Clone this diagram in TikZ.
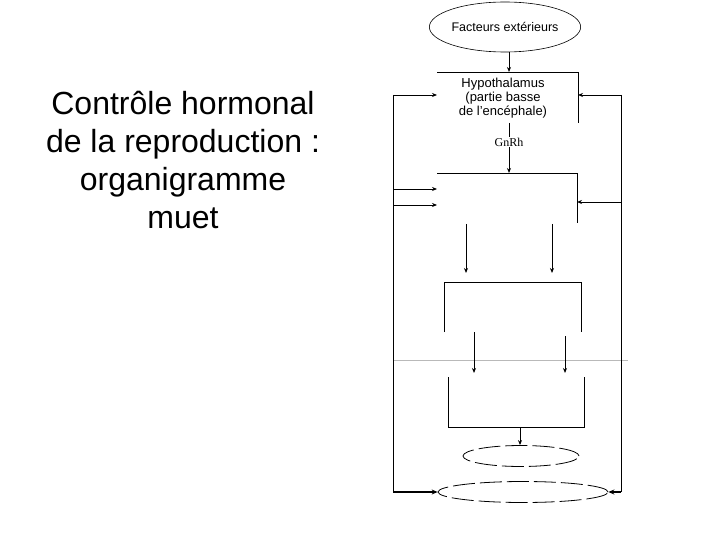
\documentclass[tikz,border=0pt]{standalone}
\usepackage{fontspec}
\setmainfont{Liberation Sans}
\newfontfamily\serifgn{Liberation Serif}
\usetikzlibrary{arrows.meta,shapes.geometric}
\begin{document}
\begin{tikzpicture}[x=1pt,y=-1pt,
  line/.style={draw=black,line width=0.9pt},
  arr/.style={line,-{Stealth[length=5pt,width=4pt]}},
  thickarr/.style={draw=black,line width=1.8pt,-{Stealth[length=6pt,width=5pt]}},
  dashell/.style={draw=black,line width=0.8pt,ellipse,dash pattern=on 22pt off 5pt,inner sep=0pt}]
\useasboundingbox (0,0) rectangle (720,540);
\fill[white] (0,0) rectangle (720,540);

% title (base anchor = last line's baseline)
\node[align=center,anchor=base,font=\fontsize{32}{38}\selectfont] (title) at (183,229)
  {Contrôle hormonal\\de la reproduction :\\organigramme\\muet};

% external factors
\node[draw,ellipse,line width=0.6pt,minimum width=137pt,minimum height=50pt,inner sep=0pt,
  font=\fontsize{12.5}{14}\selectfont] (fact) at (505,27) {Facteurs extérieurs};

% hypothalamus box (open)
\coordinate (h1) at (437,72);
\coordinate (h2) at (578,72);
\coordinate (h3) at (578,123);
\coordinate (ht) at (509,72);
\coordinate (hb) at (509,123);
\draw[line] (h1) -- (h2) -- (h3);
\node[align=center,anchor=base,font=\fontsize{13}{14}\selectfont] (hyp) at (503,116)
  {Hypothalamus\\(partie basse\\de l'encéphale)};
\draw[arr] (fact.south -| ht) -- (ht);

% GnRh
\node[font=\serifgn\fontsize{12}{14}\selectfont,inner sep=1pt] (gnrh) at (509,142) {GnRh};
\coordinate (b2t) at (509,173);
\draw[line] (hb) -- (gnrh.north);
\draw[arr] (gnrh.south) -- (b2t);

% box 2 (open)
\coordinate (b21) at (437,173);
\coordinate (b22) at (577,173);
\coordinate (b23) at (577,223);
\draw[line] (b21) -- (b22) -- (b23);

% arrows box2 -> box3
\coordinate (a1s) at (466,224);
\coordinate (a1e) at (466,273);
\coordinate (a2s) at (552,224);
\coordinate (a2e) at (552,273);
\draw[arr] (a1s) -- (a1e);
\draw[arr] (a2s) -- (a2e);

% box 3 (open)
\coordinate (b31) at (444,332);
\coordinate (b32) at (444,282);
\coordinate (b33) at (581,282);
\coordinate (b34) at (581,332);
\draw[line] (b31) -- (b32) -- (b33) -- (b34);

% gray line
\coordinate (g1) at (393,360);
\coordinate (g2) at (628,360);
\draw[gray!55,line width=0.7pt] (g1) -- (g2);

% arrows box3 -> box4
\coordinate (c1s) at (474,332);
\coordinate (c1e) at (474,373);
\coordinate (c2s) at (565,336);
\coordinate (c2e) at (565,373);
\draw[arr] (c1s) -- (c1e);
\draw[arr] (c2s) -- (c2e);

% box 4 (open top)
\coordinate (b41) at (448,377);
\coordinate (b42) at (448,427);
\coordinate (b43) at (584,427);
\coordinate (b44) at (584,377);
\coordinate (b4b) at (520,427);
\draw[line] (b41) -- (b42) -- (b43) -- (b44);

% ellipses
\node[dashell,minimum width=116pt,minimum height=21pt] (e1) at (521,456) {};
\node[dashell,minimum width=170pt,minimum height=21pt] (e2) at (523,492) {};
\draw[arr] (b4b) -- (e1.north -| b4b);

% feedback loops
\coordinate (lt) at (393,95);
\coordinate (lb) at (393,492);
\coordinate (rt) at (621,95);
\coordinate (rb) at (621,492);
\coordinate (hl) at (437,95);
\coordinate (hr) at (578,95);
\draw[line] (lt) -- (lb);
\draw[line] (rt) -- (rb);
\draw[arr] (lt) -- (hl);
\draw[arr] (rt) -- (hr);

\coordinate (l2a) at (393,189);
\coordinate (l2b) at (393,205);
\coordinate (r2) at (621,202);
\draw[arr] (l2a) -- (l2a -| b21);
\draw[arr] (l2b) -- (l2b -| b21);
\draw[arr] (r2) -- (r2 -| b22);

\draw[thickarr] (lb) -- (e2.west);
\draw[thickarr] (rb) -- (e2.east);
\end{tikzpicture}
\end{document}
